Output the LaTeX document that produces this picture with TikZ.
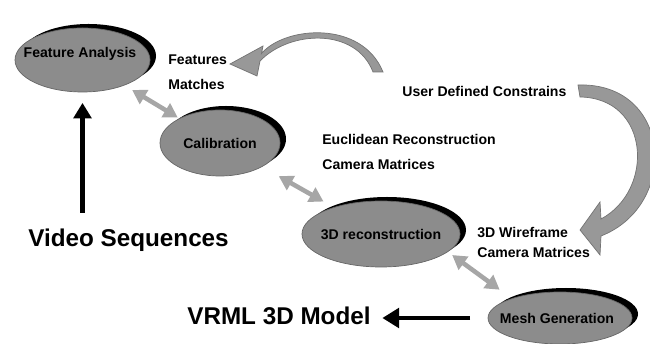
\documentclass[tikz,border=0pt]{standalone}
\usepackage{fontspec}
\setmainfont{Liberation Sans}
\usetikzlibrary{arrows.meta, shapes.geometric, shadows}
\definecolor{ellgray}{RGB}{140,140,140}
\definecolor{arrgray}{RGB}{166,166,166}
\definecolor{bendgray}{RGB}{152,152,152}

\begin{document}
\begin{tikzpicture}[
    stage/.style={ellipse, draw=black!60, fill=ellgray, inner sep=0pt,
        general shadow={fill=black, shadow xshift=0.12cm, shadow yshift=0.08cm}},
    txt/.style={font=\fontsize{8}{9.6}\selectfont\bfseries},
    lbl/.style={txt, anchor=base west, inner sep=0pt},
    big/.style={anchor=base west, inner sep=0pt, font=\fontsize{13.8}{16}\selectfont\bfseries},
    link/.style={draw=arrgray, line width=2.6pt, {Triangle[width=9pt,length=8pt]}-{Triangle[width=9pt,length=8pt]}},
    flow/.style={line width=2.8pt, -{Triangle[width=10pt,length=8.8pt]}},
    curvearrow/.style={fill=bendgray, draw=black!55, line width=0.4pt}
    ]
    \useasboundingbox (0,0) rectangle (13,-6.88);
    \clip (0,0) rectangle (13,-6.88);

    % 楕円
    \node[stage, minimum width=2.70cm, minimum height=1.28cm,
        label={[txt, xshift=-0.05cm, yshift=0.12cm]center:Feature Analysis}] (fa) at (1.65,-1.20) {};
    \node[stage, minimum width=2.40cm, minimum height=1.32cm,
        label={[txt]center:Calibration}] (cal) at (4.40,-2.86) {};
    \node[stage, minimum width=3.16cm, minimum height=1.32cm,
        label={[txt]center:3D reconstruction}] (rec) at (7.62,-4.68) {};
    \node[stage, minimum width=2.88cm, minimum height=1.04cm,
        label={[txt, xshift=-0.06cm]center:Mesh Generation}] (mesh) at (11.20,-6.36) {};

    % ラベル
    \node[lbl] (feat) at (3.36,-1.30) {Features};
    \node[lbl] (match) at (3.36,-1.80) {Matches};
    \node[lbl] (udc) at (8.04,-1.94) {User Defined Constrains};
    \node[lbl] (eucl) at (6.44,-2.90) {Euclidean Reconstruction};
    \node[lbl] (cam1) at (6.44,-3.40) {Camera Matrices};
    \node[lbl] (wire) at (9.54,-4.76) {3D Wireframe};
    \node[lbl] (cam2) at (9.54,-5.16) {Camera Matrices};
    \node[big] (vid) at (0.56,-4.94) {Video Sequences};
    \node[big] (vrml) at (3.74,-6.50) {VRML 3D Model};

    % 両矢印
    \draw[link, shorten <=5pt, shorten >=1pt] (fa) -- (cal);
    \draw[link, shorten <=10.8pt, shorten >=6.6pt] (cal) -- (rec);
    \draw[link, shorten <=3pt, shorten >=8.4pt] (rec.-15) -- (mesh.158);

    % 入出力
    \draw[flow, shorten <=9.3pt, shorten >=6pt] (fa.south |- vid.north) -- (fa.south);
    \draw[flow, -{Triangle[width=11pt,length=9.5pt]}, shorten <=10pt, shorten >=6.5pt] (mesh.west) -- (vrml.east |- mesh.west);

    % 曲がった矢印
    \draw[curvearrow] (4.60,-1.28) -- (5.26,-0.92) -- (5.23,-1.07)
        .. controls (5.70,-0.52) and (7.24,-0.40) .. (7.66,-1.44) -- (7.46,-1.44)
        .. controls (7.12,-0.55) and (5.80,-0.60) .. (5.20,-1.22) -- (5.14,-1.52) -- cycle;
    \draw[curvearrow] (11.60,-4.60) -- (12.00,-4.04) -- (12.02,-4.38)
        .. controls (13.10,-3.80) and (13.00,-1.96) .. (11.60,-1.94) -- (11.56,-1.70)
        .. controls (13.44,-1.64) and (13.60,-4.10) .. (12.02,-4.72) -- (12.00,-5.10) -- cycle;
\end{tikzpicture}
\end{document}
